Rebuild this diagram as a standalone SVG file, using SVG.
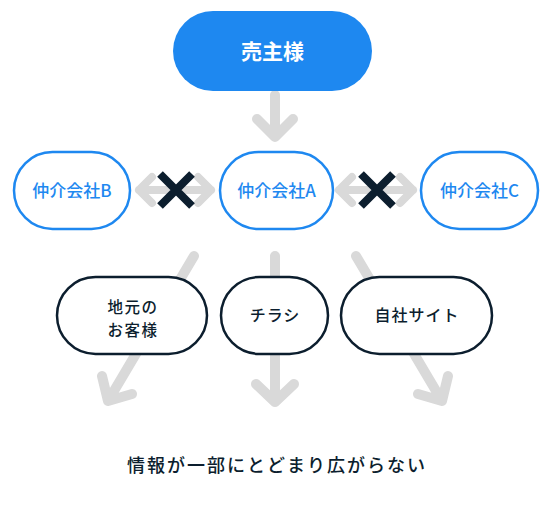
<svg xmlns="http://www.w3.org/2000/svg" width="554" height="516" viewBox="0 0 554 516">
<style>
.t{font-family:"Noto Sans CJK JP","Noto Sans",sans-serif;text-anchor:middle}
.top{fill:#1e88f0}
.tw{fill:#fff;font-size:21px;font-weight:700}
.bn{fill:#fff;stroke:#1e88f0;stroke-width:2.5}
.bt{fill:#1e88f0;font-size:17px;font-weight:500}
.dn{fill:#fff;stroke:#0c1e2e;stroke-width:2.5}
.dt{fill:#0c1e2e;font-size:16px;font-weight:500;letter-spacing:1px}
.ar{fill:none;stroke:#d9d9d9;stroke-width:10;stroke-linecap:round;stroke-linejoin:round}
.hx{fill:none;stroke:#d9d9d9;stroke-width:8;stroke-linecap:round;stroke-linejoin:round}
.x{stroke:#0c1e2e;stroke-width:8}
</style>
<rect width="554" height="516" fill="#fff"/>
<g id="connectors">
<path class="ar" d="M275 95V137M257 119L275 137L293 119"/>
<path class="hx" d="M139 190H211M152 177L139 190L152 203M198 177L211 190L198 203"/>
<path class="x" d="M160 174L192 206M192 174L160 206"/>
<path class="hx" d="M339 190H413M352 177L339 190L352 203M400 177L413 190L400 203"/>
<path class="x" d="M361 174L393 206M393 174L361 206"/>
<path class="ar" d="M194 256L108 401M102 376L108 401L132 394"/>
<path class="ar" d="M275 256V402M256 384L275 402L294 384"/>
<path class="ar" d="M356 256L442 401M448 376L442 401L418 394"/>
</g>
<g id="seller">
<rect class="top" x="173" y="11" width="199" height="80" rx="40"/>
<text class="t tw" x="272.5" y="59">売主様</text>
</g>
<g id="agentB">
<rect class="bn" x="14" y="152" width="116" height="77" rx="38.5"/>
<text class="t bt" x="72" y="197">仲介会社B</text>
</g>
<g id="agentA">
<rect class="bn" x="220" y="152" width="113" height="77" rx="38.5"/>
<text class="t bt" x="276.5" y="197">仲介会社A</text>
</g>
<g id="agentC">
<rect class="bn" x="421" y="152" width="117" height="77" rx="38.5"/>
<text class="t bt" x="479.5" y="197">仲介会社C</text>
</g>
<g id="local">
<rect class="dn" x="57" y="277" width="150" height="77" rx="38.5"/>
<text class="t dt" x="133" y="313" style="font-size:15.5px;letter-spacing:1.5px">地元の</text>
<text class="t dt" x="133" y="336" style="font-size:15.5px;letter-spacing:1.5px">お客様</text>
</g>
<g id="flyer">
<rect class="dn" x="221" y="277" width="107" height="77" rx="38.5"/>
<text class="t dt" x="275" y="321">チラシ</text>
</g>
<g id="site">
<rect class="dn" x="341" y="277" width="151" height="77" rx="38.5"/>
<text class="t dt" x="417" y="321">自社サイト</text>
</g>
<text class="t" x="277" y="472" fill="#0c1e2e" font-size="18" font-weight="500" letter-spacing="2">情報が一部にとどまり広がらない</text>
</svg>
